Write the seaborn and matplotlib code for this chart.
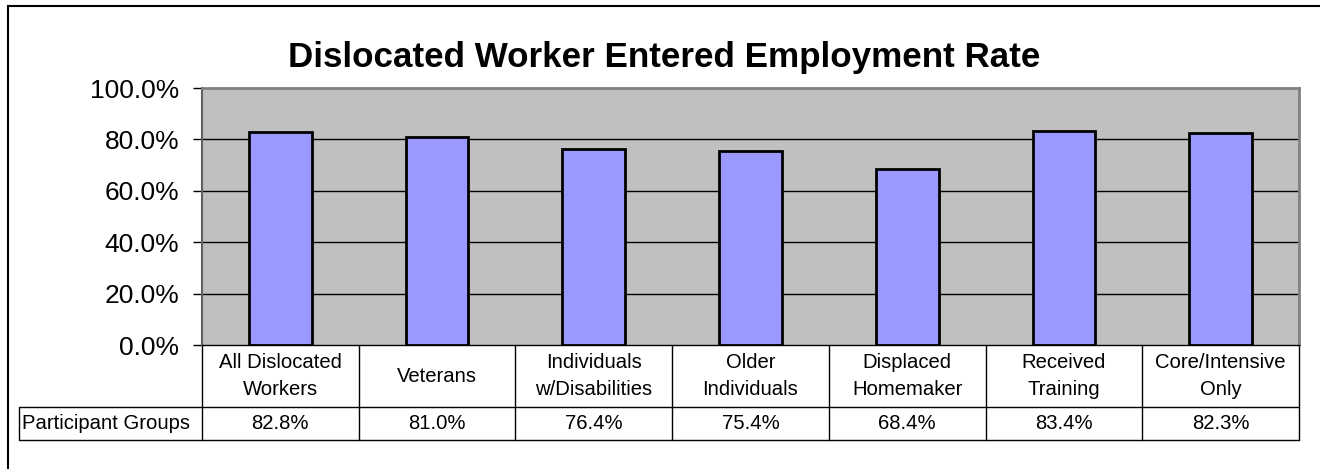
import matplotlib
matplotlib.use("Agg")
import matplotlib.pyplot as plt
import matplotlib.transforms as mtransforms
from matplotlib.patches import Rectangle
import seaborn as sns
import pandas as pd

categories = ["All Dislocated\nWorkers", "Veterans", "Individuals\nw/Disabilities",
              "Older\nIndividuals", "Displaced\nHomemaker", "Received\nTraining",
              "Core/Intensive\nOnly"]
values = [82.8, 81.0, 76.4, 75.4, 68.4, 83.4, 82.3]
series_name = "Participant Groups"
title = "Dislocated Worker Entered Employment Rate"
yticks = [0, 20, 40, 60, 80, 100]

sns.set_theme(style="white")
plt.rcParams['font.family'] = ['Liberation Sans', 'DejaVu Sans']
plt.rcParams['text.color'] = 'black'
plt.rcParams['ytick.labelcolor'] = 'black'

W, H = 1320, 469
fig = plt.figure(figsize=(W / 100, H / 100), dpi=100)
fig.patch.set_facecolor("white")

# outer chart frame (clipped at right/bottom as in reference)
fig.patches.append(Rectangle((8 / W, -0.1), 1.2, 1 - 6 / H + 0.1, transform=fig.transFigure,
                             fill=False, edgecolor="black", linewidth=1.5))

ax = fig.add_axes([202 / W, 1 - 345 / H, 1097 / W, 257 / H])
ax.set_facecolor("#C0C0C0")

df = pd.DataFrame({"cat": categories, "val": values})
sns.barplot(data=df, x="cat", y="val", color="#9999FF", width=0.40,
            edgecolor="black", linewidth=2, saturation=1, ax=ax, zorder=3)

ax.set_ylim(0, 100)
ax.set_xlim(-0.5, len(categories) - 0.5)
ax.set_yticks(yticks)
ax.set_yticklabels([f"{t:.1f}%" for t in yticks], fontsize=19, color="black")
ax.set_xticks([])
ax.set_xlabel("")
ax.set_ylabel("")
for t in yticks[1:-1]:
    ax.axhline(t, color="black", linewidth=1, zorder=1)
ax.tick_params(axis="y", which="major", direction="out", length=6.5, width=1,
               color="black", pad=10, left=True)

for side in ["top", "right"]:
    ax.spines[side].set_visible(True)
    ax.spines[side].set_color("#808080")
    ax.spines[side].set_linewidth(2)
ax.spines["left"].set_color("#606060")
ax.spines["left"].set_linewidth(1.5)
ax.spines["bottom"].set_color("black")
ax.spines["bottom"].set_linewidth(1)

# data table below the plot, positioned in data (x) / axes (y) coordinates
trans = mtransforms.blended_transform_factory(ax.transData, ax.transAxes)
r1 = -62 / 257
r2 = -95 / 257
n = len(categories)
lw = 1
x_lab = -0.5 - (202 - 19) / (1097 / n)
line_kw = dict(color="black", linewidth=lw, transform=trans, clip_on=False)
ax.plot([-0.5, n - 0.5], [r1, r1], **line_kw)
ax.plot([x_lab, -0.5], [r1, r1], **line_kw)
ax.plot([x_lab, n - 0.5], [r2, r2], **line_kw)
for i in range(n + 1):
    ax.plot([i - 0.5, i - 0.5], [0, r2], **line_kw)
ax.plot([x_lab, x_lab], [r1, r2], **line_kw)

for i, (c, v) in enumerate(zip(categories, values)):
    ax.text(i, r1 / 2, c, transform=trans, ha="center", va="center",
            fontsize=14.6, linespacing=1.5, clip_on=False, color="black")
    ax.text(i, (r1 + r2) / 2, f"{v:.1f}%", transform=trans, ha="center",
            va="center", fontsize=14.6, clip_on=False, color="black")
ax.text(x_lab + 0.02, (r1 + r2) / 2, series_name, transform=trans, ha="left",
        va="center", fontsize=14.6, clip_on=False, color="black")

fig.text(664 / W, 1 - 67 / H, title, ha="center", va="baseline",
         fontsize=25.2, fontweight="bold", color="black")

fig.savefig("out.png", dpi=100)
